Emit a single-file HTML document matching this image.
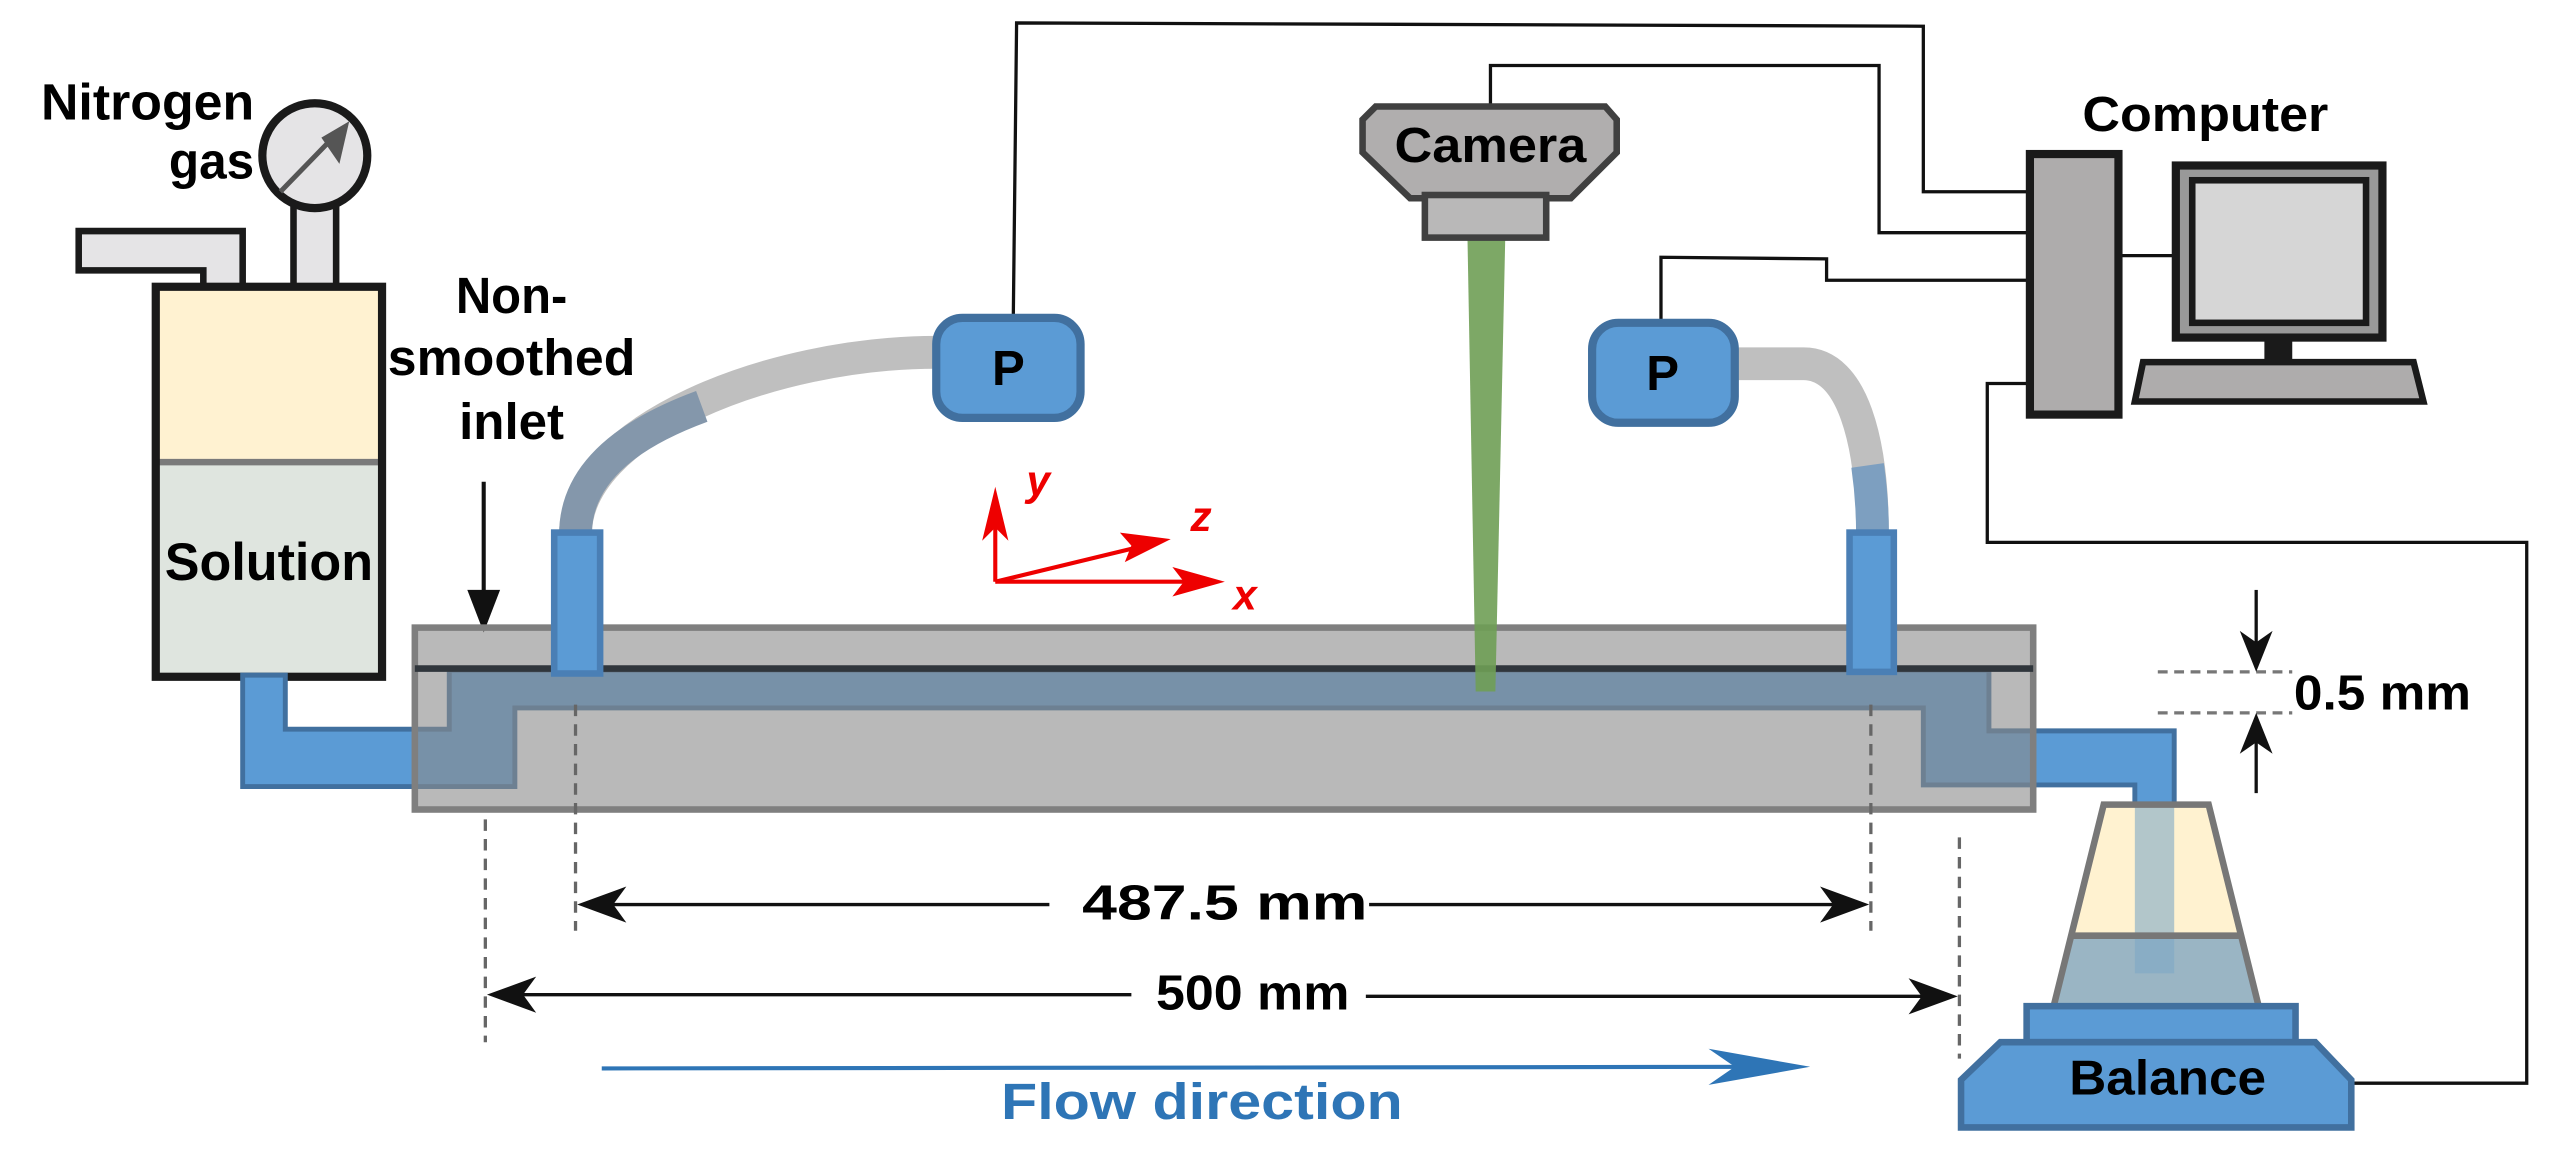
<!DOCTYPE html>
<html><head><meta charset="utf-8"><style>
html,body{margin:0;padding:0;background:#fff;}
svg{display:block;}
text{font-family:"Liberation Sans",Arial,sans-serif;font-weight:bold;}
</style></head><body>
<svg width="2571" height="1152" viewBox="0 0 1568 703" preserveAspectRatio="none" xmlns="http://www.w3.org/2000/svg">

<g fill="none" stroke="#111" stroke-width="2">
<polyline points="618,193 620,14 1173,16 1173,117 1237,117"/>
<polyline points="909,65 909,40 1146,40 1146,142 1237,142"/>
<polyline points="1013,195 1013,157 1114,158 1114,171 1237,171"/>
<polyline points="1237,234 1212,234 1212,331 1541,331 1541,661 1432,661"/>
<line x1="1293" y1="156" x2="1325" y2="156"/>
</g>

<text x="25" y="73" font-size="31" textLength="130" lengthAdjust="spacingAndGlyphs">Nitrogen</text>
<text x="103" y="109" font-size="31" textLength="52" lengthAdjust="spacingAndGlyphs">gas</text>

<path d="M48,141 L148,141 L148,188 L124,188 L124,165 L48,165 Z" fill="#e5e4e6" stroke="#1a1a1a" stroke-width="4"/>
<rect x="179" y="125" width="26" height="63" fill="#e5e4e6" stroke="#1a1a1a" stroke-width="4"/>
<ellipse cx="192" cy="95" rx="32" ry="32" fill="#e5e4e6" stroke="#1a1a1a" stroke-width="5"/>
<line x1="171" y1="117" x2="205" y2="82" stroke="#555" stroke-width="3"/>
<polygon points="213,74 207,100 196,84" fill="#555"/>

<rect x="95" y="175" width="138" height="107" fill="#fff2d1"/>
<rect x="95" y="282" width="138" height="131" fill="#dfe5df"/>
<line x1="95" y1="282" x2="233" y2="282" stroke="#7a7a7a" stroke-width="4"/>
<rect x="95" y="175" width="138" height="238" fill="none" stroke="#1a1a1a" stroke-width="5"/>
<text x="164" y="354" font-size="32" text-anchor="middle" textLength="127" lengthAdjust="spacingAndGlyphs">Solution</text>

<text x="312" y="191" font-size="31" text-anchor="middle" textLength="68" lengthAdjust="spacingAndGlyphs">Non-</text>
<text x="312" y="229" font-size="31" text-anchor="middle" textLength="151" lengthAdjust="spacingAndGlyphs">smoothed</text>
<text x="312" y="268" font-size="31" text-anchor="middle" textLength="64" lengthAdjust="spacingAndGlyphs">inlet</text>
<line x1="295" y1="294" x2="295" y2="365" stroke="#111" stroke-width="2.5"/>
<polygon points="285,360 305,360 295,386" fill="#111"/>

<path d="M148,412 L174,412 L174,445 L274,445 L274,409 L1213,409 L1213,446 L1326,446 L1326,594 L1302,594 L1302,479 L1173,479 L1173,432 L314,432 L314,480 L148,480 Z" fill="#5b9bd5" stroke="#41709f" stroke-width="3"/>

<rect x="253" y="383" width="987" height="111" fill="#8a8a8a" fill-opacity="0.6" stroke="#7f7f7f" stroke-width="4"/>
<line x1="253" y1="408" x2="1240" y2="408" stroke="#30363c" stroke-width="4"/>

<polygon points="895,146 918,146 912,422 900,422" fill="#6f9e55" fill-opacity="0.9"/>

<path d="M351,326 C351,262 470,215 571,215" fill="none" stroke="#bfbfbf" stroke-width="20"/>
<path d="M351,326 C351,285 390,262 428,248" fill="none" stroke="#8497ab" stroke-width="20"/>
<path d="M1058,222 L1100,222 C1130,222 1142,270 1142,326" fill="none" stroke="#bfbfbf" stroke-width="20"/>
<path d="M1139,284 C1141,298 1142,310 1142,326" fill="none" stroke="#7d9fc0" stroke-width="20"/>

<rect x="338" y="325" width="28" height="86" fill="#5b9bd5" stroke="#4a7fb5" stroke-width="4"/>
<rect x="1128" y="325" width="27" height="85" fill="#5b9bd5" stroke="#4a7fb5" stroke-width="4"/>

<rect x="571" y="194" width="88" height="61" rx="16" fill="#5b9bd5" stroke="#41709f" stroke-width="5"/>
<text x="615" y="235" font-size="30" text-anchor="middle">P</text>
<rect x="971" y="197" width="87" height="61" rx="16" fill="#5b9bd5" stroke="#41709f" stroke-width="5"/>
<text x="1014" y="238" font-size="30" text-anchor="middle">P</text>

<polygon points="839,65 979,65 986,73 986,93 958,121 860,121 831,93 831,73" fill="#b0aeae" stroke="#404040" stroke-width="4"/>
<rect x="869" y="119" width="74" height="26" fill="#b9b8b8" stroke="#404040" stroke-width="4"/>
<text x="909" y="99" font-size="30" text-anchor="middle" textLength="117" lengthAdjust="spacingAndGlyphs">Camera</text>

<text x="1270" y="80" font-size="30" textLength="150" lengthAdjust="spacingAndGlyphs">Computer</text>
<rect x="1238" y="94" width="54" height="159" fill="#aeacac" stroke="#1a1a1a" stroke-width="5"/>
<rect x="1327" y="101" width="126" height="105" fill="#999" stroke="#1a1a1a" stroke-width="5"/>
<rect x="1337" y="110" width="106" height="87" fill="#d6d6d6" stroke="#1a1a1a" stroke-width="4"/>
<rect x="1381" y="207" width="17" height="14" fill="#1a1a1a"/>
<polygon points="1307,221 1472,221 1478,245 1302,245" fill="#aeacac" stroke="#1a1a1a" stroke-width="4"/>

<polygon points="1283,491 1347,491 1378,616 1252,616" fill="#fff2d0"/>
<polygon points="1263,571 1367,571 1378,616 1252,616" fill="#9ab5c4"/>
<rect x="1302" y="491" width="24" height="103" fill="#7fa9c7" fill-opacity="0.6"/>
<line x1="1262" y1="571" x2="1368" y2="571" stroke="#777" stroke-width="4"/>
<polygon points="1283,491 1347,491 1378,616 1252,616" fill="none" stroke="#777" stroke-width="4"/>
<rect x="1236" y="614" width="164" height="22" fill="#5b9bd5" stroke="#41709f" stroke-width="4"/>
<polygon points="1220,636 1412,636 1434,659 1434,688 1196,688 1196,659" fill="#5b9bd5" stroke="#41709f" stroke-width="4"/>
<text x="1322" y="668" font-size="30" text-anchor="middle" textLength="120" lengthAdjust="spacingAndGlyphs">Balance</text>

<g stroke="#777" stroke-width="2" stroke-dasharray="6,4">
<line x1="1316" y1="410" x2="1398" y2="410"/>
<line x1="1316" y1="435" x2="1398" y2="435"/>
</g>
<line x1="1376" y1="360" x2="1376" y2="395" stroke="#111" stroke-width="2"/>
<polygon points="1376,410 1366,385 1376,392 1386,385" fill="#111"/>
<line x1="1376" y1="484" x2="1376" y2="450" stroke="#111" stroke-width="2"/>
<polygon points="1376,435 1366,460 1376,453 1386,460" fill="#111"/>
<text x="1399" y="433" font-size="30" textLength="108" lengthAdjust="spacingAndGlyphs">0.5 mm</text>

<g stroke="#666" stroke-width="2" stroke-dasharray="7,5">
<line x1="296" y1="500" x2="296" y2="636"/>
<line x1="351" y1="430" x2="351" y2="568"/>
<line x1="1141" y1="430" x2="1141" y2="568"/>
<line x1="1195" y1="511" x2="1195" y2="646"/>
</g>

<g fill="#111">
<line x1="360" y1="552" x2="640" y2="552" stroke="#111" stroke-width="2"/>
<polygon points="352,552 382,541 374,552 382,563"/>
<line x1="835" y1="552" x2="1130" y2="552" stroke="#111" stroke-width="2"/>
<polygon points="1140,552 1110,541 1118,552 1110,563"/>
<line x1="305" y1="607" x2="690" y2="607" stroke="#111" stroke-width="2"/>
<polygon points="297,607 327,596 319,607 327,618"/>
<line x1="833" y1="608" x2="1185" y2="608" stroke="#111" stroke-width="2"/>
<polygon points="1194,608 1164,597 1172,608 1164,619"/>
</g>
<text x="747" y="561" font-size="30" text-anchor="middle" textLength="174" lengthAdjust="spacingAndGlyphs">487.5 mm</text>
<text x="764" y="616" font-size="30" text-anchor="middle" textLength="118" lengthAdjust="spacingAndGlyphs">500 mm</text>

<line x1="367" y1="652" x2="1090" y2="651" stroke="#2e75b6" stroke-width="2.5"/>
<polygon points="1104,651 1042,640 1058,651 1042,662" fill="#2e75b6"/>
<text x="733" y="683" font-size="31" text-anchor="middle" fill="#2e75b6" textLength="245" lengthAdjust="spacingAndGlyphs">Flow direction</text>

<g stroke="#e00" stroke-width="2.5" fill="none">
<line x1="607" y1="355" x2="607" y2="310"/>
<line x1="607" y1="355" x2="735" y2="355"/>
<line x1="607" y1="355" x2="702" y2="332"/>
</g>
<g fill="#e00">
<polygon points="607,297 599,330 607,322 615,330"/>
<polygon points="747,355 715,346 722,355 715,364"/>
<polygon points="714,329 683,325 690,333 686,343"/>
</g>
<text x="626" y="302" font-size="26" font-style="italic" fill="#e00">y</text>
<text x="726" y="324" font-size="26" font-style="italic" fill="#e00">z</text>
<text x="752" y="372" font-size="26" font-style="italic" fill="#e00">x</text>
</svg>
</body></html>
